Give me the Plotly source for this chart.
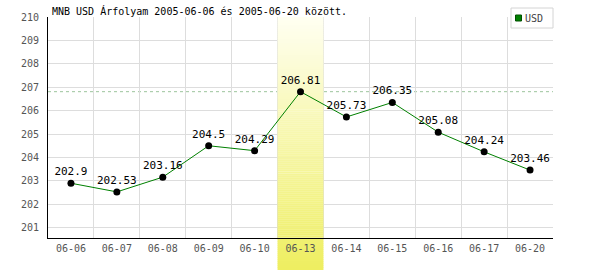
import numpy as np
import plotly.graph_objects as go

categories = ["06-06", "06-07", "06-08", "06-09", "06-10", "06-13",
              "06-14", "06-15", "06-16", "06-17", "06-20"]
usd_values = [202.9, 202.53, 203.16, 204.5, 204.29, 206.81,
              205.73, 206.35, 205.08, 204.24, 203.46]
value_labels = ["202.9", "202.53", "203.16", "204.5", "204.29", "206.81",
                "205.73", "206.35", "205.08", "204.24", "203.46"]
highlight_category = "06-13"
series_name = "USD"
title_text = "MNB USD Árfolyam 2005-06-06 és 2005-06-20 között."

Y_MIN, Y_MAX = 200.56, 210.0
W, H = 600, 270
ML, MR, MT, MB = 48, 47, 17, 32
plot_h = H - MT - MB
plot_w = W - ML - MR

MONO = "DejaVu Sans Mono"

fig = go.Figure()

fig.add_trace(go.Scatter(
    x=categories, y=usd_values, mode="lines+markers+text",
    text=value_labels, textposition="top center",
    textfont=dict(family=MONO, size=11, color="black"),
    line=dict(color="#008000", width=1),
    marker=dict(color="black", size=7),
    showlegend=False, cliponaxis=False,
))

shapes = []
# highlight band with vertical gradient (white-ish top -> yellow bottom)
hi = categories.index(highlight_category)
f_bottom = -MB / plot_h
top_c = np.array([255, 255, 242])
bot_c = np.array([238, 238, 96])
n_strips = 126
edges = np.linspace(1.0, f_bottom, n_strips + 1)
for i in range(n_strips):
    fa, fb = edges[i], edges[i + 1]
    t = (1.0 - (fa + fb) / 2) / (1.0 - f_bottom)
    c = top_c + (bot_c - top_c) * t
    col = "rgb(%d,%d,%d)" % tuple(np.round(c).astype(int))
    if fb >= 0:
        shapes.append(dict(type="rect", xref="x", yref="y", layer="between",
                           x0=hi - 0.5, x1=hi + 0.5,
                           y0=Y_MIN + fb * (Y_MAX - Y_MIN),
                           y1=Y_MIN + fa * (Y_MAX - Y_MIN) + 0.01,
                           fillcolor=col, line=dict(width=0)))
    else:
        shapes.append(dict(type="rect", xref="x", yref="paper", layer="below",
                           x0=hi - 0.5, x1=hi + 0.5,
                           y0=fb, y1=min(fa + 0.002, 0),
                           fillcolor=col, line=dict(width=0)))

# dashed line at maximum
shapes.append(dict(type="line", xref="paper", yref="y", layer="below",
                   x0=0, x1=1, y0=max(usd_values), y1=max(usd_values),
                   line=dict(color="#9cc49c", width=1, dash="3px,3px")))

# manual legend box
def px_x(p):
    return (p - ML) / plot_w

def px_y(p):
    return (H - MB - p) / plot_h

shapes.append(dict(type="rect", xref="paper", yref="paper", layer="above",
                   x0=px_x(511), x1=px_x(553), y0=px_y(28), y1=px_y(8),
                   fillcolor="white", line=dict(color="#d4d4d4", width=1)))
shapes.append(dict(type="rect", xref="paper", yref="paper", layer="above",
                   x0=px_x(515.5), x1=px_x(521.5), y0=px_y(21), y1=px_y(15),
                   fillcolor="#008000", line=dict(color="#005000", width=1)))

annotations = [dict(text=series_name, xref="paper", yref="paper",
                    x=px_x(523), y=px_y(18.5), xanchor="left", yanchor="middle",
                    showarrow=False,
                    font=dict(family=MONO, size=10, color="#444"))]

fig.update_layout(
    width=W, height=H,
    margin=dict(l=ML, r=MR, t=MT, b=MB, pad=0),
    paper_bgcolor="white", plot_bgcolor="white",
    title=dict(text=title_text, x=52 / W, xanchor="left",
               y=1 - 11.5 / H, yanchor="middle",
               font=dict(family=MONO, size=10, color="black")),
    shapes=shapes, annotations=annotations,
    showlegend=False,
)

fig.update_xaxes(
    type="category", tickson="boundaries", range=[-0.5, len(categories) - 0.5],
    showgrid=True, gridcolor="#dddddd", gridwidth=1,
    showline=True, linecolor="black", linewidth=1, ticks="",
    tickfont=dict(family=MONO, size=10, color="#555"),
    ticklabelstandoff=1,
)
fig.update_yaxes(
    range=[Y_MIN, Y_MAX], dtick=1, tick0=200,
    showgrid=True, gridcolor="#dddddd", gridwidth=1, zeroline=False,
    showline=True, linecolor="black", linewidth=1, ticks="",
    tickfont=dict(family=MONO, size=10, color="#555"),
    ticklabelstandoff=6,
)

fig.write_html("out.html")
